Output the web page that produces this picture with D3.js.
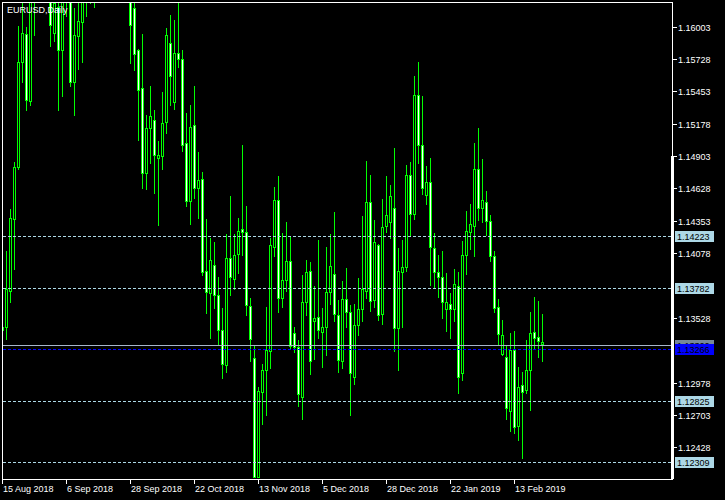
<!DOCTYPE html>
<html><head><meta charset="utf-8">
<script src="https://cdn.jsdelivr.net/npm/d3@7"></script>
<style>html,body{margin:0;padding:0;background:#000;overflow:hidden}svg{display:block}</style>
</head><body><svg id="c" width="725" height="500"></svg>
<script>
const dates = [
"2018-08-15","2018-08-16","2018-08-17","2018-08-20","2018-08-21","2018-08-22","2018-08-23","2018-08-24","2018-08-27","2018-08-28","2018-08-29","2018-08-30","2018-08-31",
"2018-09-03","2018-09-04","2018-09-05","2018-09-06","2018-09-07","2018-09-10","2018-09-11","2018-09-12","2018-09-13","2018-09-14","2018-09-17","2018-09-18","2018-09-19","2018-09-20","2018-09-21","2018-09-24","2018-09-25","2018-09-26","2018-09-27","2018-09-28",
"2018-10-01","2018-10-02","2018-10-03","2018-10-04","2018-10-05","2018-10-08","2018-10-09","2018-10-10","2018-10-11","2018-10-12","2018-10-15","2018-10-16","2018-10-17","2018-10-18","2018-10-19","2018-10-22","2018-10-23","2018-10-24","2018-10-25","2018-10-26","2018-10-29","2018-10-30","2018-10-31",
"2018-11-01","2018-11-02","2018-11-05","2018-11-06","2018-11-07","2018-11-08","2018-11-09","2018-11-12","2018-11-13","2018-11-14","2018-11-15","2018-11-16","2018-11-19","2018-11-20","2018-11-21","2018-11-22","2018-11-23","2018-11-26","2018-11-27","2018-11-28","2018-11-29","2018-11-30",
"2018-12-03","2018-12-04","2018-12-05","2018-12-06","2018-12-07","2018-12-10","2018-12-11","2018-12-12","2018-12-13","2018-12-14","2018-12-17","2018-12-18","2018-12-19","2018-12-20","2018-12-21","2018-12-24","2018-12-26","2018-12-27","2018-12-28","2018-12-31",
"2019-01-02","2019-01-03","2019-01-04","2019-01-07","2019-01-08","2019-01-09","2019-01-10","2019-01-11","2019-01-14","2019-01-15","2019-01-16","2019-01-17","2019-01-18","2019-01-21","2019-01-22","2019-01-23","2019-01-24","2019-01-25","2019-01-28","2019-01-29","2019-01-30","2019-01-31",
"2019-02-01","2019-02-04","2019-02-05","2019-02-06","2019-02-07","2019-02-08","2019-02-11","2019-02-12","2019-02-13","2019-02-14","2019-02-15","2019-02-18","2019-02-19","2019-02-20","2019-02-21","2019-02-22"
];
const open = [
1.1343,1.1345,1.1376,1.1437,1.1481,1.1570,1.1594,1.1537,1.1624,1.1679,1.1700,1.1707,1.1672,
1.1595,1.1617,1.1580,1.1630,1.1626,1.1553,1.1592,1.1604,1.1626,1.1690,1.1624,1.1684,1.1672,1.1673,1.1774,1.1748,1.1747,1.1767,1.1738,1.1643,
1.1616,1.1580,1.1548,1.1476,1.1514,1.1521,1.1489,1.1490,1.1519,1.1586,1.1536,1.1578,1.1573,1.1501,1.1452,1.1517,1.1463,1.1471,1.1393,1.1374,1.1398,1.1372,1.1343,
1.1313,1.1404,1.1386,1.1407,1.1428,1.1426,1.1363,1.1319,1.1218,1.1290,1.1309,1.1325,1.1413,1.1453,1.1370,1.1385,1.1401,1.1340,1.1328,1.1286,1.1366,1.1393,
1.1350,1.1354,1.1341,1.1345,1.1375,1.1390,1.1355,1.1316,1.1369,1.1358,1.1303,1.1347,1.1360,1.1376,1.1451,1.1368,1.1415,1.1356,1.1431,1.1434,
1.1446,1.1344,1.1392,1.1396,1.1474,1.1441,1.1542,1.1500,1.1457,1.1468,1.1412,1.1392,1.1388,1.1360,1.1365,1.1360,1.1380,1.1306,1.1406,1.1426,1.1431,1.1479,
1.1446,1.1451,1.1435,1.1405,1.1362,1.1322,1.1320,1.1274,1.1326,1.1261,1.1296,1.1292,1.1309,1.1341,1.1337,1.1331
];
const high = [
1.1358,1.1410,1.1445,1.1485,1.1601,1.1624,1.1600,1.1640,1.1691,1.1733,1.1709,1.1733,1.1681,
1.1626,1.1626,1.1643,1.1670,1.1643,1.1616,1.1630,1.1650,1.1700,1.1721,1.1687,1.1696,1.1702,1.1789,1.1803,1.1815,1.1793,1.1797,1.1763,1.1656,
1.1621,1.1581,1.1594,1.1525,1.1550,1.1529,1.1503,1.1545,1.1599,1.1610,1.1606,1.1620,1.1580,1.1527,1.1534,1.1550,1.1494,1.1477,1.1437,1.1421,1.1417,1.1388,1.1361,
1.1424,1.1456,1.1424,1.1438,1.1500,1.1448,1.1370,1.1330,1.1294,1.1314,1.1362,1.1421,1.1464,1.1473,1.1425,1.1434,1.1422,1.1345,1.1334,1.1389,1.1402,1.1400,
1.1380,1.1419,1.1361,1.1413,1.1424,1.1443,1.1368,1.1384,1.1395,1.1364,1.1365,1.1387,1.1439,1.1486,1.1474,1.1436,1.1416,1.1454,1.1473,1.1466,
1.1497,1.1412,1.1419,1.1483,1.1485,1.1558,1.1570,1.1541,1.1482,1.1489,1.1425,1.1406,1.1410,1.1391,1.1374,1.1394,1.1392,1.1418,1.1444,1.1450,1.1501,1.1514,
1.1488,1.1461,1.1440,1.1410,1.1369,1.1351,1.1330,1.1340,1.1342,1.1311,1.1307,1.1334,1.1358,1.1371,1.1367,1.1356
];
const low = [
1.1301,1.1335,1.1366,1.1394,1.1479,1.1553,1.1529,1.1534,1.1593,1.1656,1.1654,1.1653,1.1584,
1.1588,1.1529,1.1541,1.1609,1.1550,1.1525,1.1564,1.1570,1.1609,1.1620,1.1617,1.1646,1.1654,1.1670,1.1734,1.1722,1.1728,1.1730,1.1637,1.1569,
1.1563,1.1504,1.1463,1.1462,1.1484,1.1459,1.1432,1.1479,1.1510,1.1534,1.1530,1.1566,1.1495,1.1448,1.1433,1.1455,1.1438,1.1389,1.1357,1.1336,1.1361,1.1330,1.1302,
1.1307,1.1372,1.1377,1.1391,1.1406,1.1355,1.1316,1.1216,1.1217,1.1263,1.1270,1.1310,1.1405,1.1358,1.1362,1.1376,1.1327,1.1324,1.1278,1.1267,1.1355,1.1305,
1.1318,1.1336,1.1311,1.1321,1.1365,1.1350,1.1307,1.1310,1.1345,1.1270,1.1297,1.1338,1.1350,1.1370,1.1359,1.1362,1.1351,1.1348,1.1426,1.1421,
1.1325,1.1309,1.1345,1.1393,1.1422,1.1437,1.1484,1.1458,1.1450,1.1381,1.1378,1.1371,1.1353,1.1342,1.1336,1.1350,1.1289,1.1300,1.1390,1.1411,1.1405,1.1436,
1.1434,1.1423,1.1401,1.1358,1.1331,1.1321,1.1267,1.1257,1.1255,1.1249,1.1234,1.1289,1.1275,1.1327,1.1320,1.1316
];
const close = [
1.1345,1.1377,1.1438,1.1481,1.1570,1.1595,1.1538,1.1624,1.1679,1.1700,1.1707,1.1672,1.1602,
1.1620,1.1580,1.1627,1.1626,1.1553,1.1593,1.1605,1.1626,1.1690,1.1624,1.1684,1.1672,1.1673,1.1774,1.1748,1.1747,1.1767,1.1738,1.1643,1.1602,
1.1577,1.1546,1.1476,1.1514,1.1524,1.1491,1.1491,1.1518,1.1593,1.1558,1.1578,1.1573,1.1500,1.1452,1.1515,1.1463,1.1470,1.1392,1.1375,1.1402,1.1372,1.1343,1.1314,
1.1404,1.1388,1.1406,1.1427,1.1426,1.1364,1.1335,1.1218,1.1291,1.1309,1.1326,1.1415,1.1453,1.1370,1.1385,1.1401,1.1329,1.1328,1.1288,1.1366,1.1392,1.1316,
1.1353,1.1343,1.1345,1.1375,1.1397,1.1356,1.1317,1.1369,1.1358,1.1306,1.1347,1.1360,1.1377,1.1451,1.1367,1.1417,1.1355,1.1430,1.1440,1.1456,
1.1344,1.1393,1.1396,1.1474,1.1441,1.1542,1.1500,1.1463,1.1468,1.1413,1.1392,1.1388,1.1366,1.1366,1.1360,1.1382,1.1303,1.1406,1.1427,1.1433,1.1479,1.1446,
1.1453,1.1435,1.1405,1.1361,1.1339,1.1338,1.1276,1.1326,1.1260,1.1294,1.1290,1.1309,1.1340,1.1336,1.1333,1.1332
];
const yTickValues = [1.16003,1.15728,1.15453,1.15178,1.14903,1.14628,1.14353,1.14078,1.13528,1.12978,1.12703,1.12428];
const xTickDates = ["2018-08-15","2018-09-06","2018-09-28","2018-10-22","2018-11-13","2018-12-05","2018-12-28","2019-01-22","2019-02-13"];
const xTickLabels = ["15 Aug 2018","6 Sep 2018","28 Sep 2018","22 Oct 2018","13 Nov 2018","5 Dec 2018","28 Dec 2018","22 Jan 2019","13 Feb 2019"];
const levelLines = [1.14223,1.13782,1.12825,1.12309];
const askLine = 1.13300;
const bidLine = 1.13266;
const title = "EURUSD,Daily";

const FONT = "'Liberation Sans', Arial, sans-serif";
const LIME = "#00ff00";
const svg = d3.select("#c");
svg.append("rect").attr("width",725).attr("height",500).attr("fill","#000");

const x = d3.scaleBand().domain(dates).range([0, dates.length*4]).padding(0);
const cx = d => Math.round(x(d)) + 2;
const y = d3.scaleLinear().domain([1.121647, 1.16207]).range([478.5, 2.5]);
const py = v => Math.round(y(v));

const defs = svg.append("defs");
defs.append("clipPath").attr("id","clip")
  .append("rect").attr("x",3).attr("y",3).attr("width",668).attr("height",475);
defs.append("clipPath").attr("id","askclip")
  .append("rect").attr("x",675).attr("y",py(askLine)-6).attr("width",40).attr("height",py(bidLine)-5-(py(askLine)-6));

const data = dates.map((d,i)=>({d,o:open[i],h:high[i],l:low[i],c:close[i]}));
const cg = svg.append("g").attr("clip-path","url(#clip)").attr("shape-rendering","crispEdges");
const cand = cg.selectAll("g.cd").data(data).join("g").attr("class","cd");
cand.append("line")
  .attr("x1",d=>cx(d.d)+0.5).attr("x2",d=>cx(d.d)+0.5)
  .attr("y1",d=>py(d.h)).attr("y2",d=>py(d.l)+1)
  .attr("stroke",LIME).attr("stroke-width",1);
cand.append("rect")
  .attr("x",d=>cx(d.d)-0.5)
  .attr("y",d=>py(Math.max(d.o,d.c))+0.5)
  .attr("width",2)
  .attr("height",d=>Math.max(0, py(Math.min(d.o,d.c))-py(Math.max(d.o,d.c))))
  .attr("fill",d=>d.c>=d.o?"#000":"#fff")
  .attr("stroke",LIME).attr("stroke-width",1);

// horizontal level lines
const lg = svg.append("g").attr("shape-rendering","crispEdges");
lg.selectAll("line.lv").data(levelLines).join("line").attr("class","lv")
  .attr("x1",3).attr("x2",671).attr("y1",d=>py(d)+0.5).attr("y2",d=>py(d)+0.5)
  .attr("stroke","#add8e6").attr("stroke-dasharray","3,2");
lg.append("line").attr("x1",3).attr("x2",671).attr("y1",py(askLine)+0.5).attr("y2",py(askLine)+0.5)
  .attr("stroke","#a7b6c8");
lg.append("line").attr("x1",3).attr("x2",671).attr("y1",py(bidLine)+0.5).attr("y2",py(bidLine)+0.5)
  .attr("stroke","#0000ff").attr("stroke-dasharray","3,2");

// frame
const fr = svg.append("g").attr("shape-rendering","crispEdges").attr("stroke","#fff");
fr.append("line").attr("x1",2.5).attr("x2",2.5).attr("y1",2).attr("y2",480);
fr.append("line").attr("x1",2).attr("x2",673).attr("y1",2.5).attr("y2",2.5);
fr.append("line").attr("x1",672.5).attr("x2",672.5).attr("y1",2).attr("y2",480);
fr.append("line").attr("x1",2).attr("x2",673).attr("y1",479.5).attr("y2",479.5);
svg.append("rect").attr("x",671).attr("y",156).attr("width",3).attr("height",323).attr("fill","#fff");

// y axis
const ya = svg.append("g");
ya.selectAll("line").data(yTickValues).join("line")
  .attr("x1",673).attr("x2",677).attr("y1",d=>py(d)+0.5).attr("y2",d=>py(d)+0.5)
  .attr("stroke","#fff").attr("shape-rendering","crispEdges");
ya.selectAll("text").data(yTickValues).join("text")
  .attr("x",678).attr("y",d=>py(d)+4)
  .attr("fill","#fff").attr("font-family",FONT).attr("font-size","9px")
  .text(d=>d.toFixed(5));

// x axis
const xa = svg.append("g");
xa.selectAll("line").data(xTickDates).join("line")
  .attr("x1",d=>cx(d)+0.5).attr("x2",d=>cx(d)+0.5).attr("y1",480).attr("y2",484)
  .attr("stroke","#fff").attr("shape-rendering","crispEdges");
xa.selectAll("text").data(xTickDates).join("text")
  .attr("x",d=>cx(d)+1).attr("y",492)
  .attr("fill","#fff").attr("font-family",FONT).attr("font-size","9px")
  .text((d,i)=>xTickLabels[i]);

// price labels
function priceLabel(v, fill, color, clip){
  const yy = py(v);
  const g = svg.append("g");
  if (clip) g.attr("clip-path","url(#"+clip+")");
  g.append("rect").attr("x",675).attr("y",yy-5).attr("width",39).attr("height",11)
    .attr("fill",fill).attr("shape-rendering","crispEdges");
  g.append("text").attr("x",677).attr("y",yy+4).attr("fill",color)
    .attr("font-family",FONT).attr("font-size","9px").text(v.toFixed(5));
}
levelLines.forEach(v=>priceLabel(v,"#add8e6","#000"));
priceLabel(askLine,"#778899","#000","askclip");
priceLabel(bidLine,"#0000ff","#000");

svg.append("text").attr("x",7).attr("y",13).attr("fill","#fff")
  .attr("font-family",FONT).attr("font-size","9px").text(title);
</script>
</body></html>
